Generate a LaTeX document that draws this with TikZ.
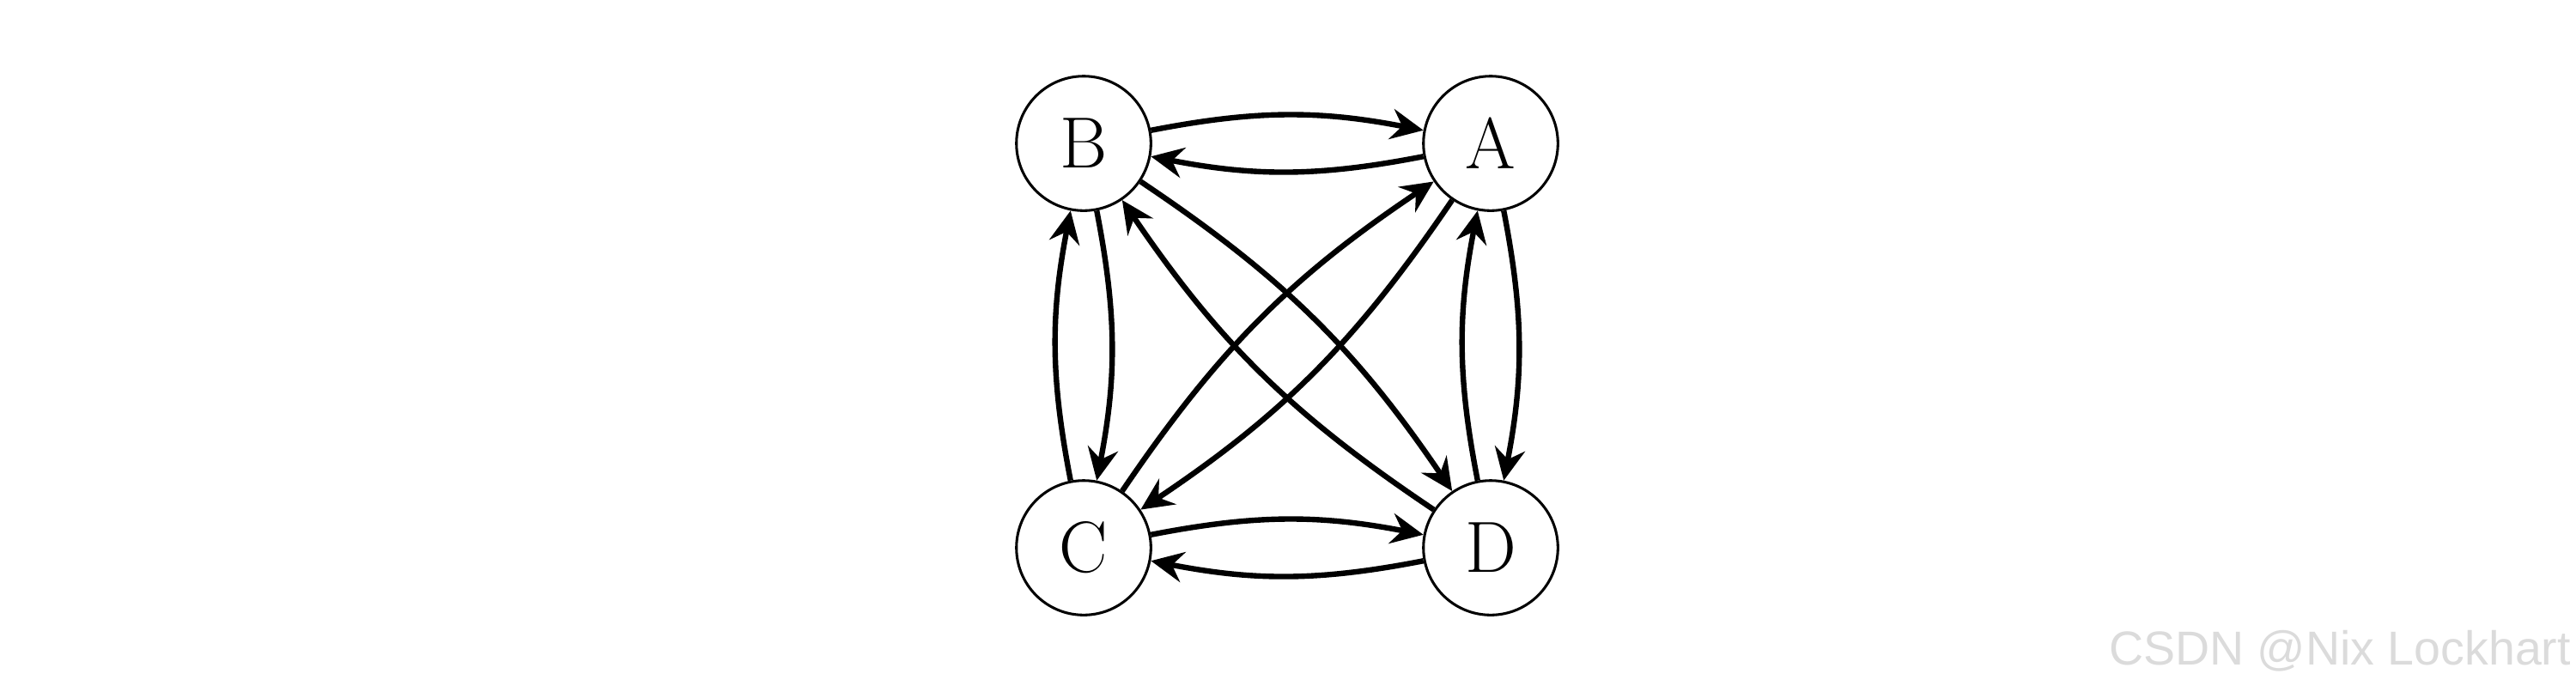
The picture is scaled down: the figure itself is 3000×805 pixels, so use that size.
\documentclass[tikz,border=0pt]{standalone}
\usepackage{fontspec}
\newfontfamily\wmfont{Liberation Sans}
\usetikzlibrary{arrows.meta}
\begin{document}
\begin{tikzpicture}[x=0.18008pt, y=-0.18008pt,
  vertex/.style={circle, draw, line width=0.55pt, minimum size=28.2pt, inner sep=0pt,
    font=\fontsize{15.2}{18}\selectfont},
  link/.style={-{Stealth[length=6.8pt,width=6.4pt,inset=2.3pt]}, line width=1.15pt, bend left=11}]
\useasboundingbox (0,0) rectangle (3000,805);
\node[vertex] (B) at (1262,167) {B};
\node[vertex] (A) at (1736,167) {A};
\node[vertex] (C) at (1262,638) {C};
\node[vertex] (D) at (1736,638) {D};
\draw[link] (B) to (A);
\draw[link] (A) to (B);
\draw[link] (C) to (D);
\draw[link] (D) to (C);
\draw[link] (B) to (C);
\draw[link] (C) to (B);
\draw[link] (A) to (D);
\draw[link] (D) to (A);
\draw[link] (B) to (D);
\draw[link] (D) to (B);
\draw[link] (A) to (C);
\draw[link] (C) to (A);
\node[font=\wmfont\fontsize{10}{12}\selectfont, text=black!14, anchor=base east, inner sep=0pt] (wm) at (2995,774) {CSDN @Nix Lockhart};
\end{tikzpicture}
\end{document}
